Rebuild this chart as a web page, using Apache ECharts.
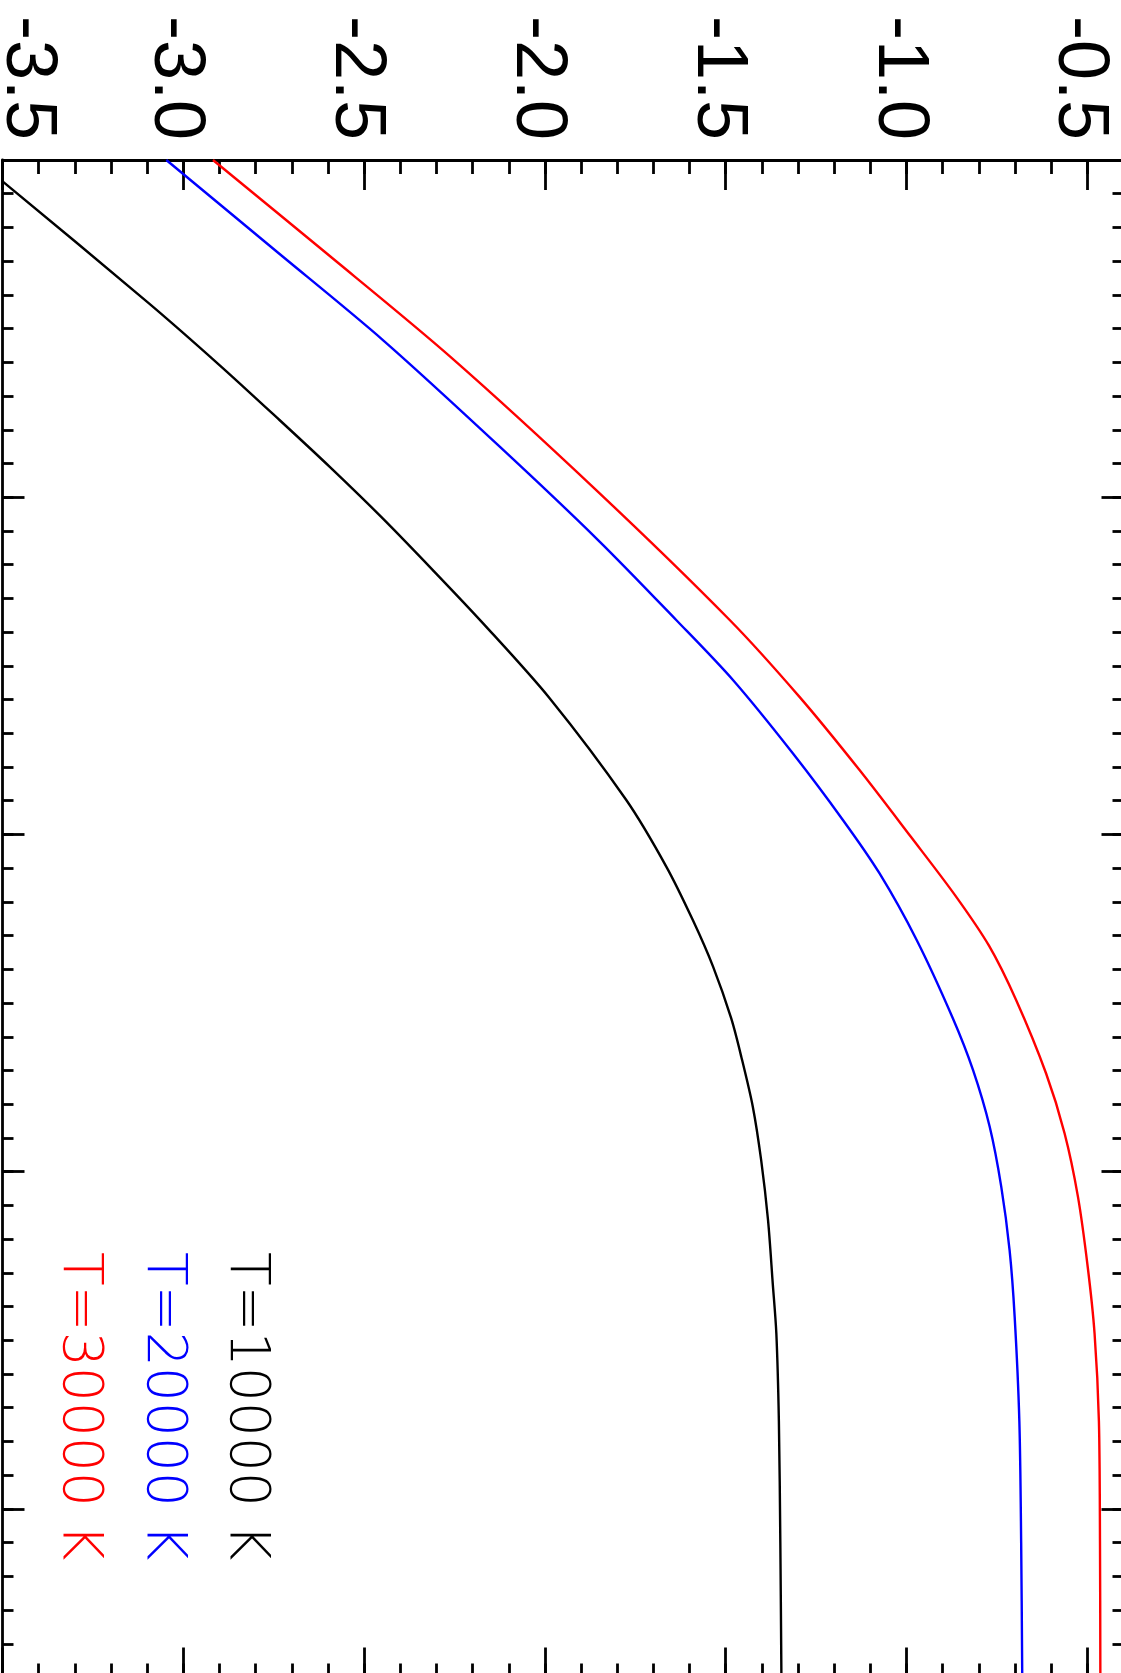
<!DOCTYPE html>
<html>
<head>
<meta charset="utf-8">
<script src="https://cdn.jsdelivr.net/npm/echarts@6/dist/echarts.min.js"></script>
<style>
html,body{margin:0;padding:0;background:#fff;}
#chart{width:1121px;height:1673px;}
</style>
</head>
<body>
<div id="chart"></div>
<script>
// horizontal value axis tick labels
const tickLabels = ['-3.5', '-3.0', '-2.5', '-2.0', '-1.5', '-1.0', '-0.5'];

// series: [value (horizontal axis), coordinate (vertical axis, top = 0)]
const seriesNames = ['T=10000 K', 'T=20000 K', 'T=30000 K'];
const seriesColors = ['#000000', '#0000ff', '#ff0000'];

const curveT10000 = [
  [-3.574, 0.0], [-3.499, 0.064], [-3.095, 0.425], [-2.900, 0.608], [-2.734, 0.771],
  [-2.595, 0.910], [-2.452, 1.059], [-2.310, 1.216], [-2.171, 1.374], [-1.987, 1.596],
  [-1.775, 1.898], [-1.664, 2.096], [-1.591, 2.254], [-1.535, 2.392],
  [-1.485, 2.545], [-1.457, 2.659], [-1.425, 2.808], [-1.402, 2.966],
  [-1.383, 3.144], [-1.370, 3.331], [-1.360, 3.480], [-1.353, 3.740], [-1.349, 4.100],
  [-1.346, 4.500]
];
const curveT20000 = [
  [-3.047, 0.0], [-2.747, 0.267], [-2.448, 0.534], [-2.125, 0.850], [-1.853, 1.127],
  [-1.637, 1.364], [-1.480, 1.542], [-1.314, 1.760], [-1.176, 1.957], [-1.075, 2.115],
  [-0.972, 2.313], [-0.872, 2.545], [-0.816, 2.699], [-0.770, 2.867], [-0.738, 3.045],
  [-0.715, 3.233], [-0.701, 3.430], [-0.688, 3.740], [-0.683, 4.100], [-0.680, 4.500]
];
const curveT30000 = [
  [-2.918, 0.0], [-2.615, 0.267], [-2.262, 0.583], [-1.853, 0.984], [-1.489, 1.364],
  [-1.296, 1.592], [-1.130, 1.809], [-0.988, 2.007], [-0.866, 2.180], [-0.772, 2.330],
  [-0.697, 2.491], [-0.614, 2.709], [-0.563, 2.886], [-0.526, 3.074], [-0.499, 3.282],
  [-0.480, 3.480], [-0.468, 3.740], [-0.465, 4.100], [-0.464, 4.500]
];
const curves = [curveT10000, curveT20000, curveT30000];

const chart = echarts.init(document.getElementById('chart'), null, {renderer: 'canvas'});

const lineStyleAxis = {color: '#000', width: 2.8};
function xAx(pos, interval, len, showLine, showLabel) {
  return {
    type: 'value', position: pos, min: -3.5, max: -0.4, interval: interval,
    axisLine: {show: showLine, onZero: false, lineStyle: lineStyleAxis},
    axisTick: {show: true, inside: true, length: len, lineStyle: {color: '#000', width: 2.8}},
    splitLine: {show: false},
    axisLabel: showLabel ? {
      show: true, rotate: 90, margin: 20, showMinLabel: true, showMaxLabel: false,
      hideOverlap: false,
      formatter: function (val) {
        const s = val.toFixed(1);
        if (tickLabels.indexOf(s) < 0 || Math.abs(val - parseFloat(s)) > 1e-6) return '';
        return (s === tickLabels[0] ? '{f|' : '{n|') + s + '}';
      },
      rich: {
        n: {fontSize: 72, fontFamily: 'Liberation Sans, Arial, sans-serif', color: '#000', padding: [16, 0, 0, 0]},
        f: {fontSize: 72, fontFamily: 'Liberation Sans, Arial, sans-serif', color: '#000', padding: [0, 0, 49, 0]}
      }
    } : {show: false}
  };
}
function yAx(pos, interval, len, showLine) {
  return {
    type: 'value', position: pos, inverse: true, min: 0, max: 4.5, interval: interval,
    axisLine: {show: showLine, onZero: false, lineStyle: lineStyleAxis},
    axisTick: {show: true, inside: true, length: len, lineStyle: {color: '#000', width: 2.8}},
    splitLine: {show: false},
    axisLabel: {show: false}
  };
}

const legendX = [245, 162, 78];

const option = {
  backgroundColor: '#ffffff',
  animation: false,
  grid: {left: 2.5, top: 160, width: 1121, height: 1517.5, containLabel: false, outerBoundsMode: 'none'},
  xAxis: [
    xAx('top', 0.5, 30, true, true),
    xAx('top', 0.1, 14, false, false),
    xAx('bottom', 0.5, 30, true, false),
    xAx('bottom', 0.1, 14, false, false)
  ],
  yAxis: [
    yAx('left', 1, 22, true),
    yAx('left', 0.1, 11, false),
    yAx('right', 1, 22, true),
    yAx('right', 0.1, 11, false)
  ],
  series: curves.map(function (c, i) {
    return {
      name: seriesNames[i], type: 'line', xAxisIndex: 0, yAxisIndex: 0,
      data: c, showSymbol: false, smooth: 0.3, clip: true,
      lineStyle: {color: seriesColors[i], width: 2.4},
      itemStyle: {color: seriesColors[i]}
    };
  }),
  graphic: seriesNames.map(function (name, i) {
    return {
      type: 'text', x: legendX[i], y: 1252, rotation: -Math.PI / 2,
      style: {
        text: name, fill: seriesColors[i],
        font: '200 55px "DejaVu Sans", sans-serif',
        align: 'left', verticalAlign: 'middle',
        textAlign: 'left', textVerticalAlign: 'middle'
      }
    };
  })
};
chart.setOption(option);
</script>
</body>
</html>
